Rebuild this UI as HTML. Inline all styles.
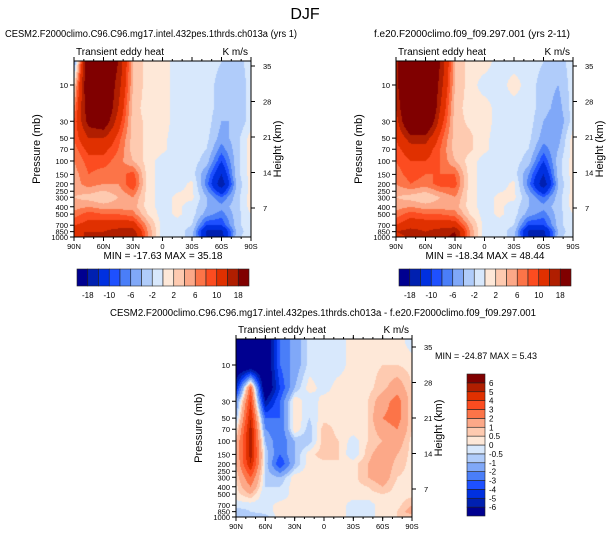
<!DOCTYPE html>
<html><head><meta charset="utf-8"><style>
body{margin:0;background:#fff;width:609px;height:538px;overflow:hidden;position:relative;font-family:"Liberation Sans",Arial,sans-serif}
canvas{position:absolute}
svg{position:absolute;left:0;top:0}
</style></head><body>
<canvas id="c1" style="left:74px;top:61px" width="177" height="176"></canvas>
<canvas id="c2" style="left:396px;top:61px" width="177" height="176"></canvas>
<canvas id="c3" style="left:236px;top:339px" width="176" height="178"></canvas>
<svg id="ov" width="609" height="538" font-family="Liberation Sans, Arial, sans-serif"></svg>
<script>
const lats=[90,75,60,45,30,15,0,-15,-30,-45,-60,-75,-90];
const plevs=[5,10,20,30,50,70,100,150,200,300,400,500,700,850,1000];
const levels12=[-18,-14,-10,-8,-6,-4,-2,0,2,4,6,8,10,14,18];
const cbLabels12=["-18","-10","-6","-2","2","6","10","18"];
const levels3=[-6,-5,-4,-3,-2,-1,-0.5,0,0.5,1,2,3,4,5,6];
const cbLabels3=["-6","-5","-4","-3","-2","-1","-0.5","0","0.5","1","2","3","4","5","6"];
const pTicks=[10,30,50,70,100,150,200,250,300,400,500,700,850,1000];
const latTicks=["90N","60N","30N","0","30S","60S","90S"];
const hTicks=[35,28,21,14,7];
const data1=[
[-6,25,25,18,4,1,1,-1,-1,-1,-2,-3,-1],
[2,25,25,16,4,1,1,-1,-1,-1,-3,-4,-1],
[6,22,25,14,3,1,1,-1,-1,-1,-3,-4,-1],
[8,20,22,12,3,1.5,1,-1,-1,-1,-4,-4,-1],
[8,14,14,9,3,1.5,0.5,-1,-1,-1.5,-5,-3,1],
[7,11,11,8,3,1.5,0.5,-1,-1,-2,-7,-3,1],
[6,9,9,7,4,1,-1,-1,-1,-3,-10,-3,1],
[5,8,7,7,9,1,-1,-1,-1,-6,-14,-3,1],
[5,7,6,6,10,1,-1,-1,0.5,-7,-17,-4,1],
[4,3,2,4,6,1,-1,0.5,0.5,-4,-8,-3,1],
[5,6,5,5,5,1,-1,0.5,-1,-4,-5,-3,1],
[7,9,8,8,7,2,-1,0.5,-1,-5,-7,-3,0],
[10,11,12,12,12,5,-1,-1,-2,-10,-10,-3,0],
[14,14,14,16,16,6,-1,-1,-3,-15,-15,-4,0],
[12,15,15,17,18,6,-1,-1,-3,-14,-16,-3,0]];
const data2=[
[16,30,30,18,4,1,1,-1,-1,-1,-2,-3,-1],
[16,30,30,16,4,1,-1,-1,1,-1,-3,-4,-1],
[14,28,30,14,3,1,1,-1,-1,-1,-3,-5,-1],
[12,26,26,12,3,1.5,1,-1,-1,-1,-4,-6,-1],
[10,16,16,9,3,2.5,0.5,-1,-1,-1.5,-5,-5,1],
[9,12,12,8,3,2.5,0.5,-1,-1,-2,-7,-4,1],
[8,10,10,8,4,1,-1,-1,-1,-3,-10,-3,1],
[7,9,8,8,8,1,-1,-1,-1,-6,-14,-3,1],
[6,8,7,9,9,1,-1,-1,0.5,-7,-17,-4,1],
[4,3,2,4,6,1,-1,0.5,0.5,-4,-8,-3,1],
[5,6,5,5,5,1,-1,0.5,-1,-4,-5,-3,1],
[7,9,8,8,7,2,-1,0.5,-1,-5,-7,-3,0],
[10,12,12,12,12,5,-1,-1,-2,-10,-10,-3,0],
[14,16,14,16,18,6,-1,-1,-3,-15,-15,-4,0],
[12,15,15,17,19,6,-1,-1,-3,-14,-16,-3,0]];
const data3=[
[-8,-8,-8,-3,-1.5,-0.3,-0.3,-0.3,0.3,0.3,0.3,0.3,-0.3],
[-8,-8,-8,-3,-1.5,-0.3,-0.3,-0.3,0.3,0.3,0.5,0.5,0.3],
[-5,3,-8,-4,-1,0.3,-0.3,0.3,0.3,0.3,0.8,1.5,0.5],
[-2,4,-6,-3,0.5,-0.5,0.3,0.3,0.3,0.5,1.5,2.5,0.5],
[-1,5,-3,-3,0.5,-0.5,0.3,0.3,0.3,0.5,2,2.5,0.5],
[0,5.5,-2,-3,0.5,-0.8,0.8,0.3,0.3,0.5,1.5,2,0.5],
[1,5.5,-1,-3,-1,-0.8,0.8,0.5,-0.3,0.5,1,1.5,0.3],
[1,5.5,-0.5,-3,-1,0.3,0.8,0.5,-0.5,0.8,1.5,1,0.3],
[1,5,-0.5,-4,-1,0.3,0.3,0.5,0.3,1,1.5,0.8,0.3],
[0.5,3,-0.5,-1,0.3,0.3,0.3,0.3,0.3,1,1.5,0.5,0.3],
[0.3,2,-0.5,-0.5,0.3,0.3,0.3,0.3,0.3,0.5,1,0.3,0.3],
[0.3,1,-0.5,-0.5,0.3,0.3,0.3,0.3,0.3,0.3,0.5,0.3,0.3],
[-0.3,-0.3,-0.3,0.3,0.3,0.3,0.3,0.3,-0.3,-0.3,0.3,0.3,1],
[-0.8,-0.5,-0.3,0.3,0.3,0.3,0.3,0.3,-0.3,-0.3,0.3,0.5,1.5],
[-1,-0.8,-0.8,0.3,0.3,0.3,0.3,0.3,-0.3,-0.3,0.3,0.5,0.5]];
const colors=["#000090","#0020b0","#0030e0","#1e50ff","#4a7ef8","#80a8f8","#b0ccfa","#d8e8fc","#fee8d8","#fecab0","#fca888","#fc7448","#fc4c20","#e03000","#b01e00","#800000"];
const rgb=colors.map(c=>[parseInt(c.substr(1,2),16),parseInt(c.substr(3,2),16),parseInt(c.substr(5,2),16)]);

function pAt(y,y10){return 10*Math.pow(10,(y-y10)/76);}
function yOfP(p,y10){return y10+Math.log10(p/10)*76;}
function sample(data,lat,p){
  let fx=(90-lat)/15; fx=Math.max(0,Math.min(12,fx));
  let i=Math.min(11,Math.floor(fx)),tx=fx-i;
  p=Math.max(5,Math.min(1000,p));
  let j=0; while(j<plevs.length-2&&plevs[j+1]<p)j++;
  let ty=(Math.log(p)-Math.log(plevs[j]))/(Math.log(plevs[j+1])-Math.log(plevs[j]));
  const a=data[j][i],b=data[j][i+1],c=data[j+1][i],d=data[j+1][i+1];
  return (a*(1-tx)+b*tx)*(1-ty)+(c*(1-tx)+d*tx)*ty;
}
function draw(id,data,levels,y10top){
  const cv=document.getElementById(id),ctx=cv.getContext('2d'),W=cv.width,H=cv.height;
  const im=ctx.createImageData(W,H);
  for(let y=0;y<H;y++){const p=pAt(y+0.5,y10top);
    for(let x=0;x<W;x++){const lat=90-180*(x+0.5)/W;const v=sample(data,lat,p);
      let k=0;while(k<levels.length&&v>=levels[k])k++;
      const c=rgb[k],o=(y*W+x)*4;im.data[o]=c[0];im.data[o+1]=c[1];im.data[o+2]=c[2];im.data[o+3]=255;}}
  ctx.putImageData(im,0,0);
}
draw('c1',data1,levels12,24);
draw('c2',data2,levels12,24);
draw('c3',data3,levels3,26);

const svg=document.getElementById('ov');const NS='http://www.w3.org/2000/svg';
function mk(tag,attrs,txt){const e=document.createElementNS(NS,tag);for(const k in attrs)e.setAttribute(k,attrs[k]);if(txt!==undefined)e.textContent=txt;svg.appendChild(e);return e;}
function txt(x,y,s,size,anchor,name,rot){const e=mk('text',{x:x,y:y,'font-size':size,'text-anchor':anchor||'middle',fill:'#000'},s);
  if(rot)e.setAttribute('transform','rotate(-90 '+x+' '+y+')');
  
  return e;}

txt(305,19,"DJF",16,'middle','figure-title');
function axes(L,T,W,H,y10,hOff,pre){
  const r=mk('rect',{x:L,y:T,width:W,height:H,fill:'none',stroke:'#000','stroke-width':1});
  
  
  latTicks.forEach((s,i)=>{const x=L+W*i/6;
    mk('line',{x1:x,y1:T+H,x2:x,y2:T+H+4,stroke:'#000'});mk('line',{x1:x,y1:T,x2:x,y2:T-4,stroke:'#000'});
    txt(x,T+H+12,s,7.5,'middle',pre+'x-tick-label');});
  for(let i=0;i<18;i++){const x=L+W*i/18;mk('line',{x1:x,y1:T+H,x2:x,y2:T+H+2,stroke:'#000'});mk('line',{x1:x,y1:T,x2:x,y2:T-2,stroke:'#000'});}
  pTicks.forEach(p=>{const y=T+yOfP(p,y10);mk('line',{x1:L,y1:y,x2:L-4,y2:y,stroke:'#000'});
    txt(L-6,y+3,String(p),7.5,'end',pre+'pressure-tick-label');});
  hTicks.forEach((h,i)=>{const y=T+hOff+35.5*i;mk('line',{x1:L+W,y1:y,x2:L+W+4,y2:y,stroke:'#000'});
    txt(L+W+12,y+3,String(h),7.5,'start',pre+'height-tick-label');});
  txt(L-34,T+H/2,"Pressure (mb)",11,'middle',pre+'y-axis-title',true);
  txt(L+W+30,T+H/2,"Height (km)",11,'middle',pre+'right-axis-title',true);
  txt(L+2,T-6,"Transient eddy heat",10,'start',pre+'left-subtitle');
  txt(L+W-3,T-6,"K m/s",10,'end',pre+'units-label');
}
axes(74,61,177,176,24,5,'p1-');
axes(396,61,177,176,24,5,'p2-');
axes(236,339,176,178,26,8,'p3-');
const t1=txt(5,37,"CESM2.F2000climo.C96.C96.mg17.intel.432pes.1thrds.ch013a (yrs 1)",10,'start','panel-1-title');
t1.setAttribute('textLength','292');t1.setAttribute('lengthAdjust','spacingAndGlyphs');
const t2=txt(472,37,"f.e20.F2000climo.f09_f09.297.001 (yrs 2-11)",10,'middle','panel-2-title');
t2.setAttribute('textLength','196');t2.setAttribute('lengthAdjust','spacingAndGlyphs');
const t3=txt(110,316,"CESM2.F2000climo.C96.C96.mg17.intel.432pes.1thrds.ch013a - f.e20.F2000climo.f09_f09.297.001",10,'start','panel-3-title');
t3.setAttribute('textLength','426');t3.setAttribute('lengthAdjust','spacingAndGlyphs');
txt(163,259,"MIN = -17.63  MAX =  35.18",10,'middle','panel-1-minmax');
txt(485,259,"MIN = -18.34  MAX =  48.44",10,'middle','panel-2-minmax');
txt(435,359,"MIN = -24.87  MAX =  5.43",9,'start','panel-3-minmax');

function hbar(L,T,W,H,pre){const cw=W/16;
  colors.forEach((c,i)=>{const r=mk('rect',{x:L+i*cw,y:T,width:cw,height:H,fill:c,stroke:'#222','stroke-width':0.6});
    
    });
  cbLabels12.forEach((s,i)=>{txt(L+cw*(2*i+1),T+H+12,s,8,'middle',pre+'colorbar-label');});
}
hbar(77,269,172,17,'p1-');
hbar(399,269,172,17,'p2-');
(function(){const L=467,T=374,W=18,H=142,ch=H/16;
  colors.forEach((c,i)=>{const r=mk('rect',{x:L,y:T+H-(i+1)*ch,width:W,height:ch,fill:c,stroke:'#222','stroke-width':0.6});
    
    });
  cbLabels3.forEach((s,i)=>{txt(L+W+4,T+H-(i+1)*ch+3,s,8,'start','p3-colorbar-label');});
})();
</script>
</body></html>
